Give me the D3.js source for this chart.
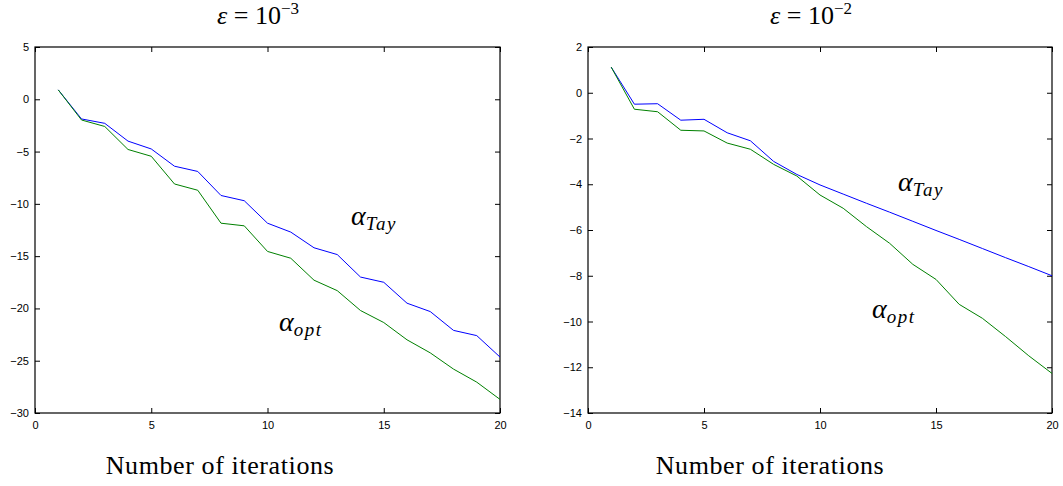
<!DOCTYPE html>
<html>
<head>
<meta charset="utf-8">
<script src="https://cdn.jsdelivr.net/npm/d3@7"></script>
<style>
  body { margin: 0; background: #fff; }
  .tick text { font-family: "Liberation Sans", Arial, sans-serif; font-size: 11px; }
  .serif { font-family: "Liberation Serif", "DejaVu Serif", serif; }
</style>
</head>
<body>
<svg id="chart" width="1063" height="486"></svg>
<script>
// iterations 1..20
var iterations = d3.range(1, 21);

// eps = 1e-3
var tayLeft = [0.9, -1.88, -2.3, -4.0, -4.75, -6.4, -6.9, -9.2, -9.7, -11.85,
               -12.7, -14.2, -14.85, -17.0, -17.5, -19.5, -20.3, -22.1, -22.6, -24.65];
var optLeft = [0.9, -1.98, -2.6, -4.8, -5.45, -8.1, -8.7, -11.85, -12.1, -14.55,
               -15.2, -17.3, -18.3, -20.2, -21.35, -23.0, -24.25, -25.8, -27.05, -28.7];

// eps = 1e-2
var tayRight = [1.12, -0.5, -0.48, -1.2, -1.16, -1.75, -2.1, -3.0, -3.57, -4.03,
                -4.43, -4.83, -5.22, -5.62, -6.02, -6.41, -6.81, -7.21, -7.6, -8.0];
var optRight = [1.12, -0.72, -0.83, -1.64, -1.67, -2.2, -2.47, -3.13, -3.64, -4.47,
                -5.05, -5.85, -6.58, -7.5, -8.16, -9.25, -9.86, -10.66, -11.5, -12.27];

var xTicks = [0, 5, 10, 15, 20];
var yTicksLeft = [5, 0, -5, -10, -15, -20, -25, -30];
var yTicksRight = [2, 0, -2, -4, -6, -8, -10, -12, -14];

var svg = d3.select("#chart");

function drawPanel(cfg) {
    var x = d3.scaleLinear().domain([0, 20]).range([cfg.left, cfg.right]);
    var y = d3.scaleLinear().domain(cfg.ydomain).range([413, 47]);
    var g = svg.append("g");

    // box
    g.append("rect")
        .attr("x", cfg.left).attr("y", 47)
        .attr("width", cfg.right - cfg.left).attr("height", 366)
        .attr("fill", "none").attr("stroke", "#000").attr("stroke-width", 1.2);

    var fmt = function(d){ return d < 0 ? "\u2212" + Math.abs(d) : d; };

    // bottom axis
    g.append("g").attr("transform", "translate(0,413)")
        .call(d3.axisBottom(x).tickValues(xTicks).tickSizeInner(-5).tickSizeOuter(0).tickPadding(8).tickFormat(fmt))
        .call(function(a){ a.select(".domain").remove(); });
    // top ticks
    g.append("g").attr("transform", "translate(0,47)")
        .call(d3.axisTop(x).tickValues(xTicks).tickSizeInner(-5).tickSizeOuter(0).tickFormat(""))
        .call(function(a){ a.select(".domain").remove(); });
    // left axis
    g.append("g").attr("transform", "translate(" + cfg.left + ",0)")
        .call(d3.axisLeft(y).tickValues(cfg.yticks).tickSizeInner(-5).tickSizeOuter(0).tickPadding(6).tickFormat(fmt))
        .call(function(a){ a.select(".domain").remove(); });
    // right ticks
    g.append("g").attr("transform", "translate(" + cfg.right + ",0)")
        .call(d3.axisRight(y).tickValues(cfg.yticks).tickSizeInner(-5).tickSizeOuter(0).tickFormat(""))
        .call(function(a){ a.select(".domain").remove(); });

    var line = d3.line().x(function(d, i){ return x(iterations[i]); }).y(function(d){ return y(d); });

    g.append("path").datum(cfg.tay).attr("d", line)
        .attr("fill", "none").attr("stroke", "#0000ff").attr("stroke-width", 1);
    g.append("path").datum(cfg.opt).attr("d", line)
        .attr("fill", "none").attr("stroke", "#008000").attr("stroke-width", 1);

    // title
    var t = g.append("text").attr("class", "serif")
        .attr("x", cfg.titleX).attr("y", 24)
        .attr("text-anchor", "middle").attr("font-size", 26);
    t.append("tspan").attr("font-style", "italic").text("\u03b5");
    t.append("tspan").text(" = 10");
    t.append("tspan").attr("font-size", 17).attr("dy", -10).text("\u2212" + cfg.exp);

    // labels on curves
    function alphaLabel(px, py, sub) {
        var a = g.append("text").attr("class", "serif")
            .attr("x", px).attr("y", py).attr("font-style", "italic");
        a.append("tspan").attr("font-size", 28).text("\u03b1");
        a.append("tspan").attr("font-size", 19).attr("dy", 5).attr("letter-spacing", 1.5).text(sub);
    }
    alphaLabel(cfg.tayLabel[0], cfg.tayLabel[1], "Tay");
    alphaLabel(cfg.optLabel[0], cfg.optLabel[1], "opt");

    // x label
    g.append("text").attr("class", "serif")
        .attr("x", cfg.xlabelX).attr("y", 474)
        .attr("text-anchor", "middle").attr("font-size", 26).attr("letter-spacing", 0.6)
        .text("Number of iterations");
}

drawPanel({
    left: 35, right: 500, ydomain: [-30, 5], yticks: yTicksLeft,
    tay: tayLeft, opt: optLeft, exp: 3, titleX: 258, xlabelX: 220,
    tayLabel: [351, 225], optLabel: [279, 331]
});
drawPanel({
    left: 588, right: 1052, ydomain: [-14, 2], yticks: yTicksRight,
    tay: tayRight, opt: optRight, exp: 2, titleX: 811, xlabelX: 770,
    tayLabel: [898, 191], optLabel: [872, 318]
});
</script>
</body>
</html>
